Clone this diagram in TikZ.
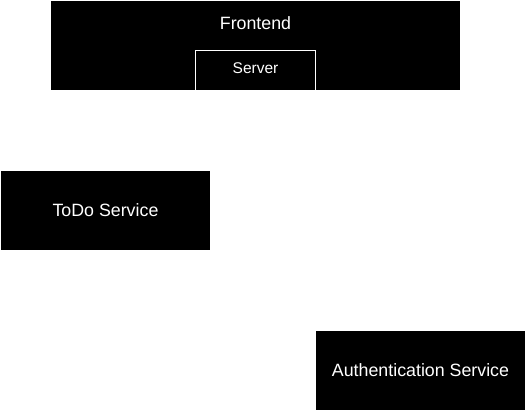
\documentclass[tikz,border=0pt]{standalone}
\usepackage{fontspec}
\setmainfont{Liberation Sans}
\begin{document}
\begin{tikzpicture}[x=1pt,y=1pt,
  blk/.style={draw=none,fill=black,text=white,font=\fontsize{17.8}{20}\selectfont},
  inner/.style={draw=white,fill=black,text=white,line width=1pt,font=\fontsize{15.5}{18}\selectfont}]
\useasboundingbox (0,0) rectangle (526,411);
\fill[white] (0,0) rectangle (526,411);
\fill[black] (51,411-90) rectangle (460,411-1);
\node[text=white,font=\fontsize{17.8}{20}\selectfont] (frontend) at (255.5,411-23) {Frontend};
\draw[white,line width=1pt,fill=black] (195.5,411-90) -- (195.5,411-50.5) -- (315.5,411-50.5) -- (315.5,411-90);
\node[text=white,font=\fontsize{15.5}{18}\selectfont] (server) at (255.5,411-68) {Server};
\node[blk,minimum width=209,minimum height=79,inner sep=0] (todo) at (105.5,411-210.5) {ToDo Service};
\node[blk,minimum width=209,minimum height=79,inner sep=0] (auth) at (420.5,411-370.5) {Authentication Service};
\end{tikzpicture}
\end{document}
